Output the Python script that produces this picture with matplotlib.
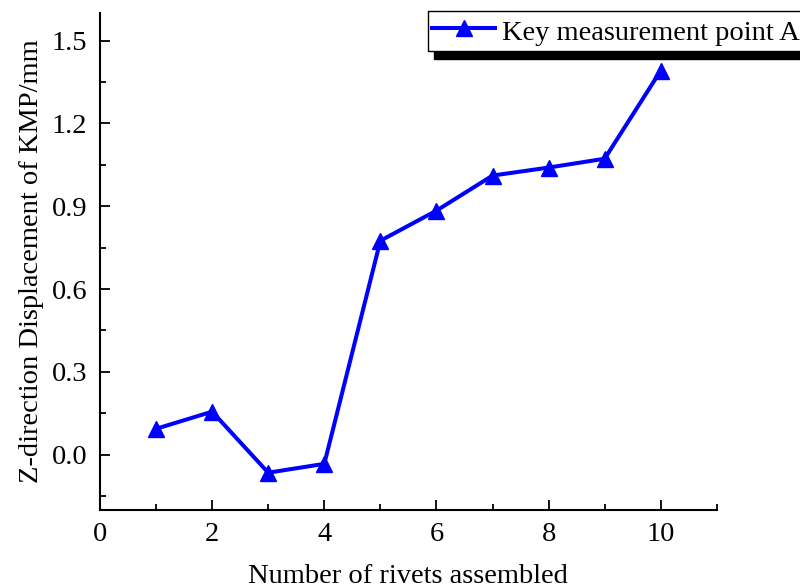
import matplotlib
matplotlib.use("Agg")
import matplotlib.pyplot as plt
from matplotlib.ticker import MultipleLocator

plt.rcParams["font.family"] = ["Liberation Serif", "DejaVu Serif"]
plt.rcParams["mathtext.fontset"] = "stix"

# rivet count vs Z displacement of key point A
rivets = [1, 2, 3, 4, 5, 6, 7, 8, 9, 10]
disp_a = [0.094, 0.156, -0.065, -0.033, 0.775, 0.884, 1.011, 1.040, 1.072, 1.391]

fig = plt.figure(figsize=(8, 5.88), dpi=100, facecolor="white")
ax = fig.add_axes([0.125, 0.1327, 0.771, 0.8453])

ax.plot(rivets, disp_a, color="#0000FF", lw=2.9, marker="^", ms=12,
        label="Key measurement point A")

ax.set_xlim(0, 11)
ax.set_ylim(-0.2, 1.6)
ax.xaxis.set_major_locator(MultipleLocator(2))
ax.xaxis.set_minor_locator(MultipleLocator(1))
ax.yaxis.set_major_locator(MultipleLocator(0.3))
ax.yaxis.set_minor_locator(MultipleLocator(0.15))
ax.yaxis.set_major_formatter(plt.FormatStrFormatter("%.1f"))

for s in ["top", "right"]:
    ax.spines[s].set_visible(False)
for s in ["left", "bottom"]:
    ax.spines[s].set_linewidth(1.5)

ax.tick_params(which="major", direction="in", length=7, width=1.3,
               labelsize=20.5, pad=9)
ax.tick_params(which="minor", direction="in", length=4, width=1.3)

ax.set_xlabel("Number of rivets assembled", fontsize=20.5, labelpad=12)
ax.set_ylabel("Z-direction Displacement of KMP/mm", fontsize=20.5, labelpad=6)

fig.legend(loc="upper left", bbox_to_anchor=(428 / 800, 1 - 11 / 588),
           fontsize=20.5, frameon=True, fancybox=False, edgecolor="black",
           framealpha=1, borderaxespad=0, borderpad=0.15, handlelength=2.2,
           handletextpad=0.25, handleheight=1.3,
           shadow={"ox": 4.3, "oy": -5.8, "color": "black", "alpha": 1})

fig.savefig("out.png", dpi=100)
